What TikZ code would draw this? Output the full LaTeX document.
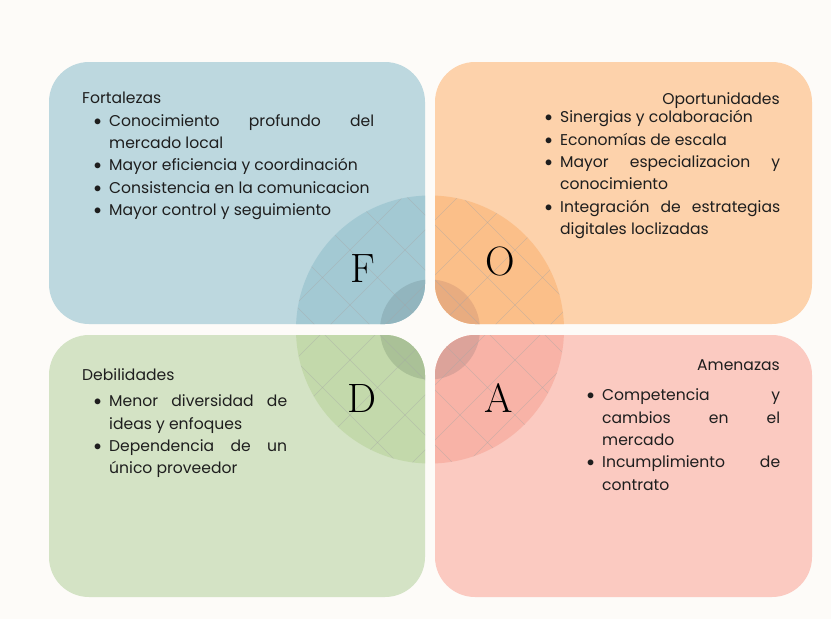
\documentclass[tikz,border=0pt]{standalone}
\usepackage{fontspec}
\newfontfamily\bodyfont{Poppins}
\newfontfamily\dotfont{Lato}
\usetikzlibrary{positioning}
\definecolor{fodabg}{HTML}{FDFBF8}
\definecolor{inktext}{HTML}{1E1E1E}
\definecolor{fcol}{HTML}{BDD8DF}
\definecolor{fdisk}{HTML}{A3C9D3}
\definecolor{fcore}{HTML}{92B5BE}
\definecolor{ocol}{HTML}{FDD2AB}
\definecolor{odisk}{HTML}{FBBF89}
\definecolor{ocore}{HTML}{E8AC80}
\definecolor{dcol}{HTML}{D4E3C5}
\definecolor{ddisk}{HTML}{C3D9AB}
\definecolor{dcore}{HTML}{AAC197}
\definecolor{acol}{HTML}{FBCAC1}
\definecolor{adisk}{HTML}{F8B3A7}
\definecolor{acore}{HTML}{DCA39A}
\hyphenpenalty=10000
\exhyphenpenalty=10000
\tolerance=10000
\newcommand{\fitem}[1]{\noindent\hangindent=16pt\hangafter=1\hbox to 16pt{\hfil{\dotfont\textbullet}\hskip 7pt}#1\par}

\begin{document}
\begin{tikzpicture}[x=1pt,y=-1pt,
    head/.style={font=\bodyfont\fontsize{15.6}{22.4}\selectfont,text=inktext,inner sep=0pt},
    items/.style={font=\bodyfont\fontsize{15.6}{22.4}\selectfont,text=inktext,inner sep=0pt,align=justify,anchor=base west},
    letter/.style={font=\fontsize{41}{41}\selectfont,anchor=base},
    gridline/.style={gray!70,opacity=0.45,line width=0.6pt}]
      \fill[fodabg] (0,0) rectangle (831,619);
      \useasboundingbox (0,0) rectangle (831,619);
      \begin{scope}[rounded corners=40pt]
        \fill[fcol] (49,62) rectangle (425,324);
        \fill[ocol] (435,62) rectangle (812,324);
        \fill[dcol] (49,335) rectangle (425,597);
        \fill[acol] (435,335) rectangle (812,597);
      \end{scope}
      \foreach \xa/\ya/\xb/\yb/\q in {49/62/425/324/f,435/62/812/324/o,49/335/425/597/d,435/335/812/597/a} {
        \begin{scope}
          \clip[rounded corners=40pt] (\xa,\ya) rectangle (\xb,\yb);
          \fill[\q disk] (430,329.5) circle[radius=134];
          \fill[\q core] (430,329.5) circle[radius=50];
          \clip (430,329.5) circle[radius=134];
          \foreach \m in {-5,...,5}
            \draw[gridline] ({100+55*\m+190},190) -- ({100+55*\m+470},470); % falling lines
          \foreach \k in {-2,...,8}
            \draw[gridline] ({600+55*\k-190},190) -- ({600+55*\k-470},470); % rising lines
        \end{scope}
      }
      \begin{scope}
        \node[letter] (fl) at (363,282) {F};
        \node[letter] (ol) at (500,275.5) {O};
        \node[letter] (dl) at (362,412) {D};
        \node[letter] (al) at (499,412) {A};
      \end{scope}
      \begin{scope}
        \node[head,anchor=base west] (fhead) at (82,103) {Fortalezas};
        \node[items,text width=281pt] (flist) at (93,126) {%
          \fitem{Conocimiento profundo del\linebreak mercado local}
          \fitem{Mayor eficiencia y coordinación}
          \fitem{Consistencia en la comunicacion}
          \fitem{Mayor control y seguimiento}};
        \node[head,anchor=base east] (ohead) at (780,104) {Oportunidades};
        \node[items,text width=236pt] (olist) at (544,122.7) {%
          \fitem{Sinergias y colaboración}
          \fitem{Economías de escala}
          \fitem{Mayor especializacion y\linebreak conocimiento}
          \fitem{Integración de estrategias\linebreak digitales loclizadas}};
        \node[head,anchor=base west] (dhead) at (82,380) {Debilidades};
        \node[items,text width=194pt] (dlist) at (93,406.7) {%
          \fitem{Menor diversidad de\linebreak ideas y enfoques}
          \fitem{Dependencia de un\linebreak único proveedor}};
        \node[head,anchor=base east] (ahead) at (780,370.7) {Amenazas};
        \node[items,text width=194pt] (alist) at (586,400.7) {%
          \fitem{Competencia y\linebreak cambios en el\linebreak mercado}
          \fitem{Incumplimiento de\linebreak contrato}};
      \end{scope}
    \end{tikzpicture}
\end{document}
